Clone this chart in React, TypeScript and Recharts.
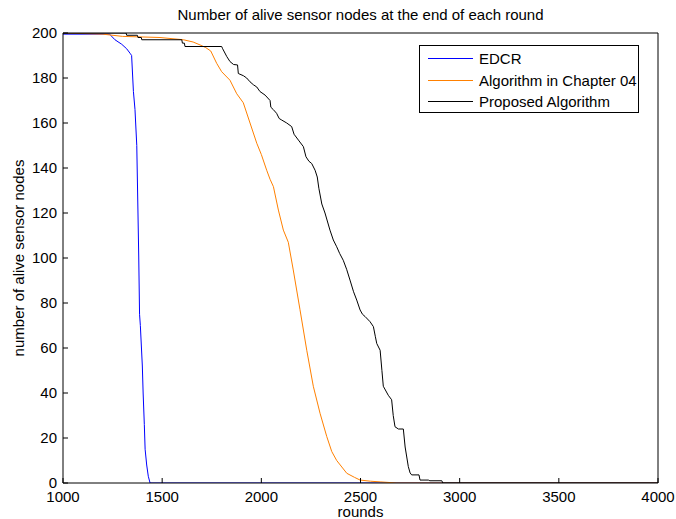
import React from 'react';
import { LineChart, Line, XAxis, YAxis, Legend } from 'recharts';

const FONT = '"Liberation Sans", Arial, Helvetica, sans-serif';

const xTicks = [1000, 1500, 2000, 2500, 3000, 3500, 4000];
const yTicks = [0, 20, 40, 60, 80, 100, 120, 140, 160, 180, 200];

const seriesNames = ['EDCR', 'Algorithm in Chapter 04', 'Proposed Algorithm'];
const seriesColors = ['#0000ff', '#ff8000', '#000000'];

const edcrRounds = [1000, 1235, 1240, 1262, 1296, 1321, 1338, 1346, 1355, 1363, 1372, 1378, 1382, 1386, 1390, 1400, 1404, 1410, 1414, 1422, 1430, 1439, 4000];
const edcrAlive = [199.5, 199.5, 199, 197, 195, 193, 191, 190, 174, 166, 150, 120, 100, 75, 70, 52, 40, 26, 15, 8, 3, 0, 0];

const ch4Rounds = [1000, 1200, 1300, 1489, 1607, 1656, 1691, 1720, 1745, 1775, 1800, 1842, 1876, 1909, 1943, 1977, 2000, 2027, 2044, 2061, 2086, 2111, 2136, 2161, 2195, 2229, 2262, 2296, 2330, 2355, 2380, 2431, 2470, 2498, 2550, 2599, 2683, 4000];
const ch4Alive = [200, 199.5, 198.5, 198, 197, 196, 194.7, 193.5, 192, 186.5, 182.8, 179, 173, 169, 160, 151, 146, 139, 135, 131.7, 121.3, 112.4, 107, 94.7, 77, 59, 43, 31, 20.6, 14, 10, 4.3, 2.5, 1.3, 0.8, 0.5, 0, 0];

const propRounds = [1000, 1318, 1321, 1375, 1378, 1395, 1397, 1599, 1602, 1612, 1615, 1800, 1805, 1826, 1842, 1860, 1880, 1884, 1910, 1926, 1943, 1960, 1977, 1993, 2019, 2044, 2048, 2060, 2077, 2090, 2103, 2128, 2153, 2165, 2187, 2212, 2225, 2240, 2254, 2271, 2282, 2290, 2305, 2321, 2346, 2363, 2380, 2395, 2413, 2430, 2447, 2465, 2481, 2498, 2510, 2523, 2548, 2565, 2575, 2582, 2599, 2608, 2615, 2640, 2657, 2665, 2674, 2691, 2716, 2725, 2741, 2750, 2758, 2795, 2800, 2842, 2850, 2910, 2915, 4000];
const propAlive = [200, 200, 199, 199, 198, 198, 197, 197, 195.5, 195.5, 194, 194, 193, 189.5, 187.3, 186, 185.8, 182, 181, 180, 178.3, 177, 176, 174, 172.4, 170, 167, 166, 164.3, 162, 161.3, 160, 158.4, 155, 152.4, 149.5, 145, 143, 142, 139, 136, 131, 124, 120, 112.4, 108, 105, 102, 99, 95, 90.2, 85, 81.3, 76.9, 75, 74, 71.7, 69.5, 65, 62, 59, 50, 43, 39, 37, 30, 25, 24, 24, 16, 7.3, 4.5, 3.6, 3.6, 1.3, 1.3, 1, 1, 0, 0];

const toPoints = (rounds: number[], alive: number[]) =>
  rounds.map((r, i) => ({ round: r, alive: alive[i] }));

const seriesData = [
  toPoints(edcrRounds, edcrAlive),
  toPoints(ch4Rounds, ch4Alive),
  toPoints(propRounds, propAlive),
];

const FS = 15;

const renderLegend = () => (
  <div
    style={{
      width: 218,
      height: 64,
      border: '1px solid #000',
      background: '#fff',
      fontFamily: FONT,
      fontSize: FS,
      color: '#000',
      boxSizing: 'content-box',
      paddingTop: 2,
    }}
  >
    {seriesNames.map((n, i) => (
      <div key={n} style={{ display: 'flex', alignItems: 'center', height: 21.5 }}>
        <div style={{ marginLeft: 8, width: 45, height: 0, borderTop: `1px solid ${seriesColors[i]}` }} />
        <span style={{ marginLeft: 6, whiteSpace: 'nowrap' }}>{n}</span>
      </div>
    ))}
  </div>
);

export default function App() {
  return (
    <div style={{ position: 'absolute', left: 0, top: 0, width: 676, height: 519, background: '#fff', fontFamily: FONT }}>
      <div style={{ position: 'absolute', left: 63, width: 595, top: 6, textAlign: 'center', fontSize: FS, color: '#000', whiteSpace: 'nowrap' }}>
        Number of alive sensor nodes at the end of each round
      </div>
      <div style={{ position: 'absolute', left: 63, width: 595, top: 503, textAlign: 'center', fontSize: FS, color: '#000' }}>
        rounds
      </div>
      <div
        style={{
          position: 'absolute',
          left: 18,
          top: 258,
          transform: 'translate(-50%, -50%) rotate(-90deg)',
          fontSize: FS,
          color: '#000',
          whiteSpace: 'nowrap',
        }}
      >
        number of alive sensor nodes
      </div>
      <LineChart width={676} height={519} margin={{ top: 32, right: 17, bottom: 6, left: 23 }}>
        <XAxis
          xAxisId="b"
          dataKey="round"
          type="number"
          domain={[1000, 4000]}
          ticks={xTicks}
          allowDataOverflow
          height={30}
          tickSize={-5}
          tickMargin={13}
          stroke="#000"
          tick={{ fill: '#000', fontSize: FS, fontFamily: FONT }}
        />
        <XAxis
          xAxisId="t"
          dataKey="round"
          orientation="top"
          type="number"
          domain={[1000, 4000]}
          ticks={xTicks}
          allowDataOverflow
          height={1}
          tick={false}
          tickSize={-5}
          stroke="#000"
        />
        <YAxis
          yAxisId="l"
          type="number"
          domain={[0, 200]}
          ticks={yTicks}
          allowDataOverflow
          width={40}
          tickSize={-5}
          tickMargin={11}
          stroke="#000"
          tick={{ fill: '#000', fontSize: FS, fontFamily: FONT }}
        />
        <YAxis
          yAxisId="r"
          orientation="right"
          type="number"
          domain={[0, 200]}
          ticks={yTicks}
          allowDataOverflow
          width={1}
          tick={false}
          tickSize={-5}
          stroke="#000"
        />
        <Legend
          layout="horizontal"
          verticalAlign="middle"
          align="center"
          content={renderLegend}
          wrapperStyle={{ left: 419, top: 45, width: 220, height: 68 }}
        />
        <Line
          xAxisId="t"
          yAxisId="r"
          data={seriesData[2]}
          dataKey="alive"
          stroke="none"
          strokeOpacity={0}
          dot={false}
          activeDot={false}
          legendType="none"
          isAnimationActive={false}
        />
        {seriesData.map((d, i) => (
          <Line
            key={seriesNames[i]}
            xAxisId="b"
            yAxisId="l"
            data={d}
            dataKey="alive"
            name={seriesNames[i]}
            type="linear"
            stroke={seriesColors[i]}
            strokeWidth={1}
            dot={false}
            activeDot={false}
            isAnimationActive={false}
          />
        ))}
      </LineChart>
    </div>
  );
}
